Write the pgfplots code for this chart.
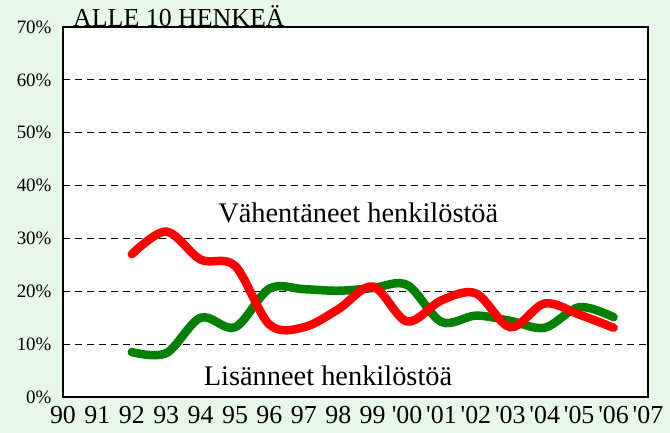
\documentclass[border=0pt]{standalone}
\usepackage{pgfplots}
\pgfplotsset{compat=1.18}
\usepackage{fontspec}
\setmainfont{Liberation Serif}
\definecolor{bg}{HTML}{E8F8E8}
\definecolor{dgreen}{HTML}{008000}
\definecolor{lred}{HTML}{FF0000}

\begin{document}
\begin{tikzpicture}
\useasboundingbox (0,0) rectangle (670bp,433bp);
\fill[bg] (0,0) rectangle (670bp,433bp);
\begin{axis}[
  at={(63bp,36bp)}, anchor=south west,
  scale only axis, width=585bp, height=370bp,
  xmin=1990, xmax=2007, ymin=0, ymax=70,
  xtick={1990,...,2007},
  xticklabels={90,91,92,93,94,95,96,97,98,99,\textquotesingle 00,\textquotesingle 01,\textquotesingle 02,\textquotesingle 03,\textquotesingle 04,\textquotesingle 05,\textquotesingle 06,\textquotesingle 07},
  ytick={0,10,...,70},
  yticklabels={0\%,10\%,20\%,30\%,40\%,50\%,60\%,70\%},
  axis line style={line width=2bp},
  axis background/.style={fill=white},
  major tick length=0pt,
  ymajorgrids,
  grid style={black, line width=0.8bp, dash pattern=on 7bp off 5bp},
  x tick label style={font=\fontsize{26}{26}\selectfont, yshift=-6bp},
  y tick label style={font=\fontsize{19}{19}\selectfont, xshift=-8bp},
  clip=false,
]
\addplot[dgreen, line width=8.5bp, line cap=round, smooth, tension=0.55] coordinates {
(1992,8.5) (1993,8.3) (1994,15.0) (1995,13.2) (1996,20.5) (1997,20.4) (1998,20.1)
(1999,20.6) (2000,21.2) (2001,14.2) (2002,15.4) (2003,14.4) (2004,13.1) (2005,17.0) (2006,15.1)
};
\addplot[lred, line width=8.5bp, line cap=round, smooth, tension=0.55] coordinates {
(1992,27.0) (1993,31.3) (1994,26.0) (1995,24.8) (1996,13.7) (1997,13.2) (1998,16.6)
(1999,20.9) (2000,14.3) (2001,18.3) (2002,19.6) (2003,13.2) (2004,17.7) (2005,15.6) (2006,13.1)
};
\node[anchor=base west, font=\fontsize{26}{26}\selectfont, inner sep=0pt] at (axis cs:1990.29,70) {ALLE 10 HENKEÄ};
\node[anchor=base, font=\fontsize{28.5}{28.5}\selectfont, inner sep=0pt] at (axis cs:1998.58,33.1) {Vähentäneet henkilöstöä};
\node[anchor=base, font=\fontsize{28.5}{28.5}\selectfont, inner sep=0pt] at (axis cs:1997.70,2.27) {Lisänneet henkilöstöä};
\end{axis}
\end{tikzpicture}
\end{document}
